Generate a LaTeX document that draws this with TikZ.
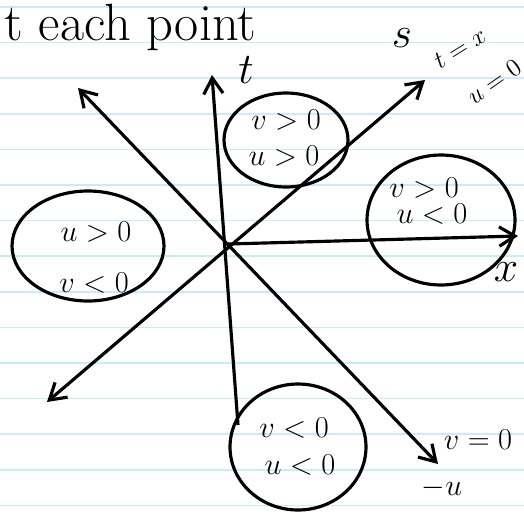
\documentclass[tikz,border=0pt]{standalone}
\usepackage{amsmath}
\usetikzlibrary{positioning,shapes.geometric,arrows.meta}

\tikzset{
  region/.style={ellipse, draw, line width=1.8pt, inner sep=0pt},
  axis/.style={line width=1.8pt},
  hand/.style={font=\LARGE, inner sep=1pt},
}

\begin{document}
\begin{tikzpicture}[x=0.02cm, y=-0.02cm, >={Straight Barb[length=9pt,width=11pt]}]

\useasboundingbox (0,0) rectangle (524,511);
\clip (0,0) rectangle (524,511);
\fill[white] (0,0) rectangle (524,511);

% Ruled paper
\foreach \k in {0,...,14} {
    \draw[cyan!22, line width=1pt] (0, 7+35.6*\k) -- (524, 7+35.6*\k);
}

% Heading
\node[font=\Huge, scale=1.2, anchor=base west, inner sep=0pt] (head) at (4,40) {t each point};

% Origin and axis ends
\coordinate (O) at (228,244);
\coordinate (tend) at (212,75);
\coordinate (tbot) at (238,425);
\coordinate (xend) at (518,236);
\coordinate (send) at (425,80);
\coordinate (sbot) at (47,402);
\coordinate (nwend) at (78,88);
\coordinate (seend) at (438,464);

% Axes
\draw[axis, ->] (tbot) -- (tend);
\draw[axis, ->] (O) -- (xend);
\draw[axis, <->] (sbot) -- (send);
\draw[axis, <->] (nwend) -- (seend);

% Axis labels
\node[hand, font=\Huge] (tlab) at (246,70) {$t$};
\node[hand, font=\Huge] (slab) at (402,38) {$s$};
\node[hand, font=\Large, rotate=32] (tx) at (460,48) {$t=x$};
\node[hand, font=\Large, rotate=35] (uzero) at (494,82) {$u=0$};
\node[hand, font=\Huge] (xlab) at (506,272) {$x$};
\node[hand] (vzero) at (478,440) {$v=0$};
\node[hand] (minu) at (442,488) {$-u$};

% Sign regions
\node[region, minimum width=2.48cm, minimum height=1.88cm] (top) at (286,140) {};
\node[region, minimum width=2.96cm, minimum height=2.6cm] (right) at (441,220) {};
\node[region, minimum width=3.04cm, minimum height=2.2cm] (left) at (88,246) {};
\node[region, minimum width=2.72cm, minimum height=2.52cm] (bottom) at (298,447) {};

\node[hand] (topv) at (286,120) {$v>0$};
\node[hand] (topu) at (284,156) {$u>0$};
\node[hand] (rightv) at (424,188) {$v>0$};
\node[hand] (rightu) at (432,214) {$u<0$};
\node[hand] (leftu) at (96,232) {$u>0$};
\node[hand] (leftv) at (94,283) {$v<0$};
\node[hand] (bottomv) at (294,428) {$v<0$};
\node[hand] (bottomu) at (300,465) {$u<0$};

\end{tikzpicture}
\end{document}
